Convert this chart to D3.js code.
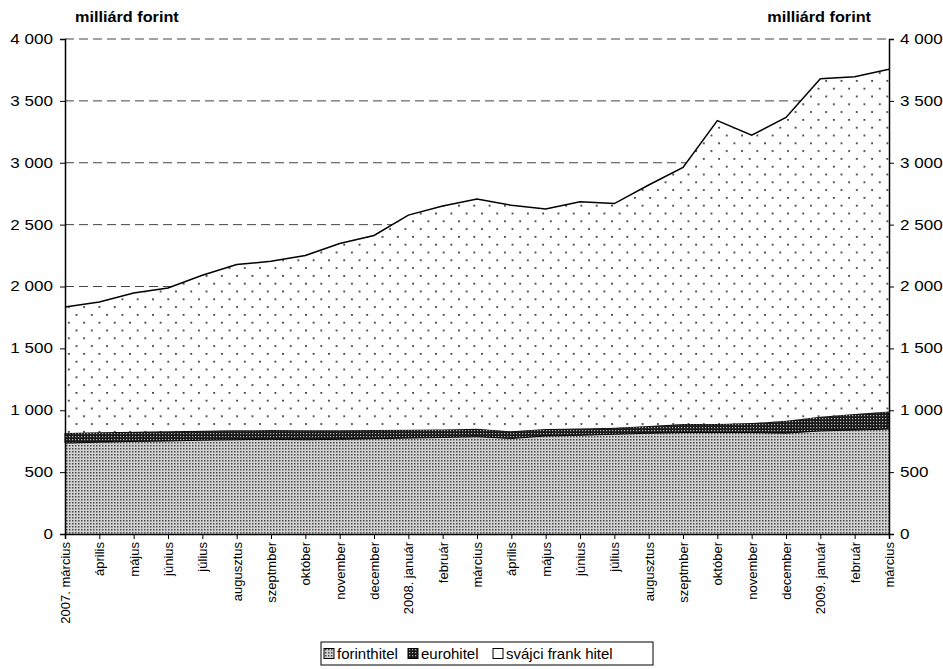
<!DOCTYPE html>
<html>
<head>
<meta charset="utf-8">
<script src="https://cdn.jsdelivr.net/npm/d3@7"></script>
<style>
  body { margin: 0; background: #fff; }
  text { font-family: Arial, "Liberation Sans", sans-serif; }
</style>
</head>
<body>
<div id="chart"></div>
<script>
// Hónapok (x tengely feliratai)
const months = ['2007. március', 'április', 'május', 'június', 'július', 'augusztus', 'szeptmber',
    'október', 'november', 'december', '2008. január', 'február', 'március', 'április', 'május',
    'június', 'július', 'augusztus', 'szeptmber', 'október', 'november', 'december',
    '2009. január', 'február', 'március'];

// Hitelállomány devizánként, milliárd forint
const forint = [735, 742, 748, 752, 758, 762, 765, 762, 765, 770, 775, 780, 786, 772, 792,
    798, 806, 814, 820, 820, 820, 815, 833, 840, 848];
const euro = [81, 80, 78, 78, 76, 76, 75, 76, 73, 70, 67, 65, 64, 58, 56,
    55, 52, 58, 68, 68, 76, 101, 115, 130, 142];
const swiss = [1018, 1052, 1121, 1158, 1257, 1339, 1364, 1412, 1510, 1572, 1735, 1805, 1857, 1826, 1778,
    1832, 1812, 1948, 2075, 2453, 2327, 2450, 2731, 2725, 2765];

const yTicks = [0, 500, 1000, 1500, 2000, 2500, 3000, 3500, 4000];
const seriesNames = ['forinthitel', 'eurohitel', 'svájci frank hitel'];
const unitLabel = 'milliárd forint';

const margin = { top: 39, right: 54, bottom: 135, left: 65 };
const width = 943 - margin.left - margin.right;
const height = 669 - margin.top - margin.bottom;

const svgRoot = d3.select('#chart')
    .append('svg')
    .attr('width', 943)
    .attr('height', 669);

// mintázatok
const defs = svgRoot.append('defs');

const pForint = defs.append('pattern')
    .attr('id', 'pForint')
    .attr('patternUnits', 'userSpaceOnUse')
    .attr('width', 3).attr('height', 3);
pForint.append('rect').attr('width', 3).attr('height', 3).attr('fill', '#d2d2d2');
pForint.append('rect').attr('x', 1).attr('y', 1).attr('width', 1.5).attr('height', 1.5).attr('fill', '#4a4a4a');

const pEuro = defs.append('pattern')
    .attr('id', 'pEuro')
    .attr('patternUnits', 'userSpaceOnUse')
    .attr('width', 3).attr('height', 3);
pEuro.append('rect').attr('width', 3).attr('height', 3).attr('fill', '#1a1a1a');
pEuro.append('rect').attr('x', 1).attr('y', 1).attr('width', 1.2).attr('height', 1.2).attr('fill', '#bbb');

const pSwiss = defs.append('pattern')
    .attr('id', 'pSwiss')
    .attr('patternUnits', 'userSpaceOnUse')
    .attr('width', 15.3).attr('height', 15.6);
pSwiss.append('rect').attr('width', 15.3).attr('height', 15.6).attr('fill', '#fff');
pSwiss.append('rect').attr('x', 3).attr('y', 2).attr('width', 1.7).attr('height', 1.7).attr('fill', '#222');
pSwiss.append('rect').attr('x', 10.65).attr('y', 9.8).attr('width', 1.7).attr('height', 1.7).attr('fill', '#222');

const svg = svgRoot.append('g')
    .attr('transform', `translate(${margin.left},${margin.top})`);

// skálák
const x = d3.scaleLinear().domain([0, months.length - 1]).range([0, width]);
const y = d3.scaleLinear().domain([0, 4000]).range([height, 0]);

const fmt = d3.formatLocale({ decimal: ',', thousands: ' ', grouping: [3], currency: ['', ''] }).format(',');

// rácsvonalak
svg.selectAll('.grid')
    .data(yTicks.slice(1))
    .enter()
    .append('line')
    .attr('x1', 0)
    .attr('x2', width)
    .attr('y1', d => y(d))
    .attr('y2', d => y(d))
    .attr('stroke', '#444')
    .attr('stroke-dasharray', '9,5');

// halmozott területek
const table = months.map((m, i) => ({ i: i, forint: forint[i], euro: euro[i], swiss: swiss[i] }));
const stack = d3.stack().keys(['forint', 'euro', 'swiss']);
const layers = stack(table);
const fills = ['url(#pForint)', 'url(#pEuro)', 'url(#pSwiss)'];

const area = d3.area()
    .x(d => x(d.data.i))
    .y0(d => y(d[0]))
    .y1(d => y(d[1]));

svg.selectAll('.layer')
    .data(layers)
    .enter()
    .append('path')
    .attr('d', area)
    .attr('fill', (d, i) => fills[i])
    .attr('stroke', (d, i) => i === 1 ? '#000' : 'none')
    .attr('stroke-width', 1);

// felső vonal
svg.append('path')
    .datum(layers[2])
    .attr('fill', 'none')
    .attr('stroke', '#000')
    .attr('stroke-width', 1.5)
    .attr('d', d3.line().x(d => x(d.data.i)).y(d => y(d[1])));

// tengelyek (a feliratok vízszintesen nyújtva, mint az eredetin)
const yLeft = svg.append('g')
    .call(d3.axisLeft(y).tickValues(yTicks).tickSize(5).tickFormat(fmt));
yLeft.selectAll('text')
    .attr('x', 0)
    .attr('transform', 'translate(-12,0) scale(1.22,1)');

const yRight = svg.append('g')
    .attr('transform', `translate(${width},0)`)
    .call(d3.axisRight(y).tickValues(yTicks).tickSize(5).tickFormat(fmt));
yRight.selectAll('text')
    .attr('x', 0)
    .attr('transform', 'translate(11,0) scale(1.22,1)');

[yLeft, yRight].forEach(g => {
    g.selectAll('text').style('font-size', '14px').attr('fill', '#000');
    g.selectAll('line').attr('stroke', '#000');
    g.select('.domain').attr('stroke', '#000').attr('stroke-width', 1.5);
});

const xAxis = svg.append('g')
    .attr('transform', `translate(0,${height})`)
    .call(d3.axisBottom(x).tickValues(d3.range(months.length)).tickSize(5).tickFormat(i => months[i]));
xAxis.select('.domain').attr('stroke', '#000').attr('stroke-width', 1.5);
xAxis.selectAll('line').attr('stroke', '#000');
xAxis.selectAll('text')
    .style('font-size', '13px')
    .attr('fill', '#000')
    .attr('text-anchor', 'end')
    .attr('transform', 'rotate(-90)')
    .attr('x', -8)
    .attr('y', 0)
    .attr('dy', '0.35em');

// mértékegység feliratok
svgRoot.append('text')
    .attr('transform', 'translate(75,22) scale(1.16,1)')
    .style('font-size', '14px').style('font-weight', 'bold')
    .text(unitLabel);
svgRoot.append('text')
    .attr('transform', 'translate(871,22) scale(1.16,1)')
    .attr('text-anchor', 'end')
    .style('font-size', '14px').style('font-weight', 'bold')
    .text(unitLabel);

// jelmagyarázat
const legend = svgRoot.append('g').attr('transform', 'translate(321,642)');
legend.append('rect')
    .attr('width', 332).attr('height', 23)
    .attr('fill', '#fff').attr('stroke', '#000');
const legendX = [3, 87, 172];
const legendFills = ['url(#pForint)', 'url(#pEuro)', '#fff'];
seriesNames.forEach((name, i) => {
    legend.append('rect')
        .attr('x', legendX[i]).attr('y', 6.5)
        .attr('width', 10).attr('height', 10)
        .attr('fill', legendFills[i]).attr('stroke', '#000');
    legend.append('text')
        .attr('x', legendX[i] + 13).attr('y', 17)
        .style('font-size', '15px')
        .text(name);
});
</script>
</body>
</html>
